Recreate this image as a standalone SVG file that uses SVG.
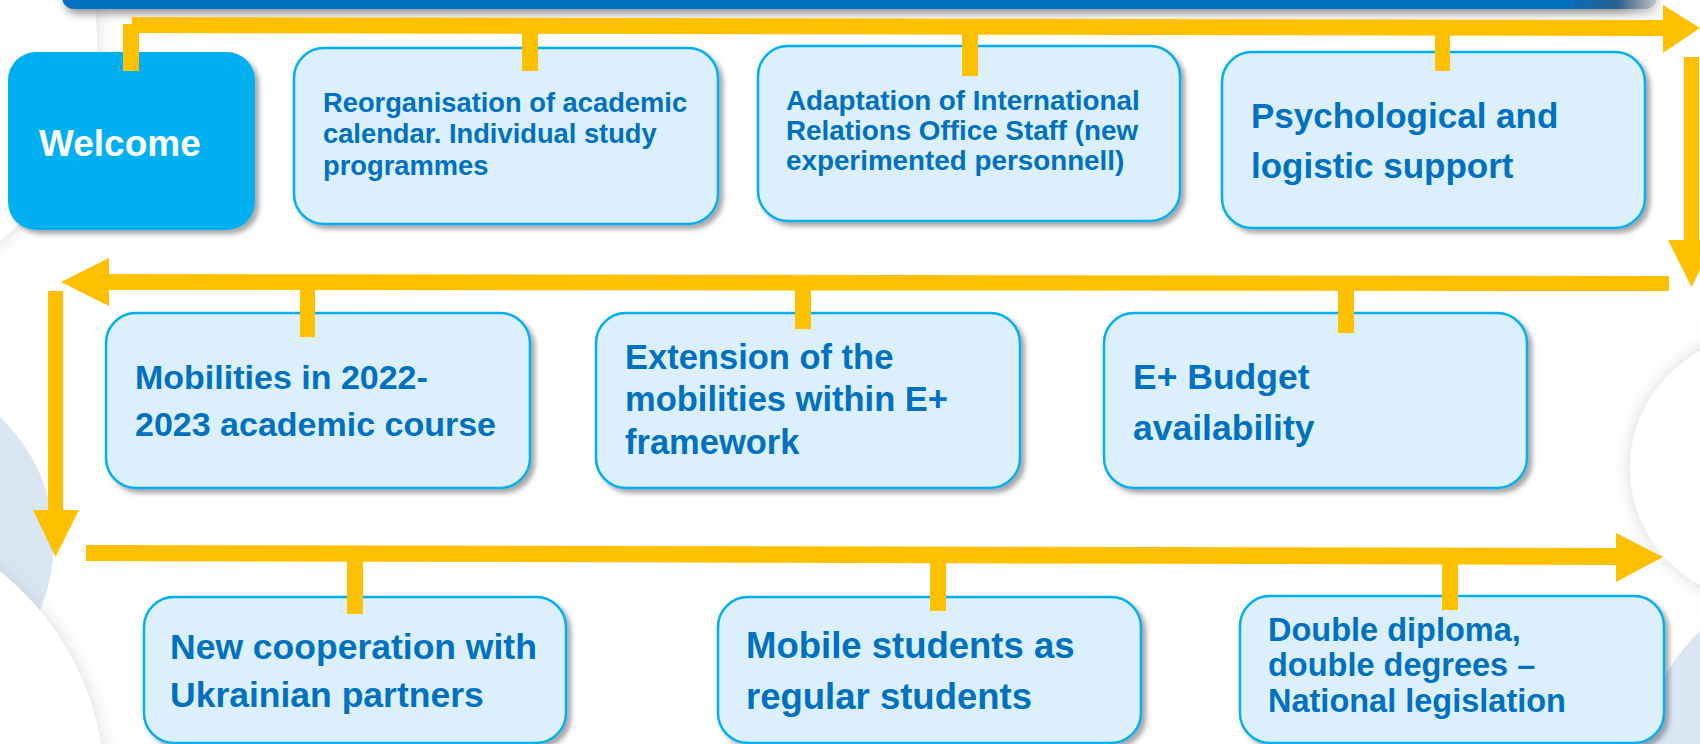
<svg xmlns="http://www.w3.org/2000/svg" width="1700" height="744" viewBox="0 0 1700 744">
<defs>
  <filter id="sh" x="-10%" y="-10%" width="130%" height="140%">
    <feDropShadow dx="4" dy="4" stdDeviation="2.5" flood-color="#5f5f5f" flood-opacity="0.55"/>
  </filter>
  <filter id="barsh" x="-5%" y="-50%" width="115%" height="300%">
    <feDropShadow dx="3" dy="5" stdDeviation="4" flood-color="#555" flood-opacity="0.6"/>
  </filter>
  <filter id="glow" x="-50%" y="-50%" width="200%" height="200%">
    <feDropShadow dx="0" dy="0" stdDeviation="9" flood-color="#b8b8b8" flood-opacity="0.55"/>
  </filter>
  <linearGradient id="bargrad" x1="0" y1="0" x2="1" y2="0">
    <stop offset="0" stop-color="#0070C0"/>
    <stop offset="0.94" stop-color="#0070C0"/>
    <stop offset="0.975" stop-color="#2A5F8F"/>
    <stop offset="1" stop-color="#7F8FA0" stop-opacity="0.3"/>
  </linearGradient>
  <style>
    .box{fill:#DBF0FC;stroke:#00B0F0;stroke-width:2.5;filter:url(#sh)}
    .welcome{fill:#00B0F0;filter:url(#sh)}
    .t{font-family:"Liberation Sans",Arial,sans-serif;font-weight:bold;fill:#0070C0}
    .w{font-family:"Liberation Sans",Arial,sans-serif;font-weight:bold;fill:#FFFFFF}
    .y{fill:#FFC000}
  </style>
</defs>
<rect width="1700" height="744" fill="#FFFFFF"/>

<g id="background">
  <circle cx="-160" cy="40" r="257" fill="#FFFFFF" filter="url(#glow)"/>
  <circle cx="-118" cy="542" r="172" fill="#DAE6F4"/>
  <circle cx="-175" cy="790" r="280" fill="#FFFFFF" filter="url(#glow)"/>
  <circle cx="1860" cy="790" r="226" fill="#DAE6F4"/>
  <circle cx="1763" cy="468" r="133" fill="#FFFFFF" filter="url(#glow)"/>
</g>

<g id="title-bar">
  <rect x="62" y="-20" width="1595" height="29" rx="12" fill="url(#bargrad)" filter="url(#barsh)"/>
</g>

<g id="node-welcome">
  <rect class="welcome" x="8" y="52" width="247" height="178" rx="28"/>
  <text class="w" x="39" y="156" font-size="37">Welcome</text>
</g>
<g id="node-reorganisation">
  <rect class="box" x="294" y="48" width="424" height="176" rx="30"/>
  <text class="t" x="323" font-size="27.3"><tspan x="323" y="112">Reorganisation of academic</tspan><tspan x="323" y="143">calendar. Individual study</tspan><tspan x="323" y="175">programmes</tspan></text>
</g>
<g id="node-adaptation">
  <rect class="box" x="758" y="46" width="422" height="175" rx="30"/>
  <text class="t" font-size="27.8"><tspan x="786" y="110">Adaptation of International</tspan><tspan x="786" y="140">Relations Office Staff (new</tspan><tspan x="786" y="170">experimented personnell)</tspan></text>
</g>
<g id="node-psychological">
  <rect class="box" x="1222" y="52" width="423" height="176" rx="30"/>
  <text class="t" font-size="35"><tspan x="1251" y="128">Psychological and</tspan><tspan x="1251" y="178">logistic support</tspan></text>
</g>
<g id="node-mobilities">
  <rect class="box" x="106" y="313" width="424" height="175" rx="30"/>
  <text class="t" font-size="34"><tspan x="135" y="389">Mobilities in 2022-</tspan><tspan x="135" y="436">2023 academic course</tspan></text>
</g>
<g id="node-extension">
  <rect class="box" x="596" y="313" width="424" height="175" rx="30"/>
  <text class="t" font-size="34.5"><tspan x="625" y="369">Extension of the</tspan><tspan x="625" y="411">mobilities within E+</tspan><tspan x="625" y="454">framework</tspan></text>
</g>
<g id="node-budget">
  <rect class="box" x="1104" y="313" width="423" height="175" rx="30"/>
  <text class="t" font-size="35.5"><tspan x="1133" y="389">E+ Budget</tspan><tspan x="1133" y="440">availability</tspan></text>
</g>
<g id="node-cooperation">
  <rect class="box" x="144" y="597" width="422" height="146" rx="30"/>
  <text class="t" font-size="35.5"><tspan x="170" y="659">New cooperation with</tspan><tspan x="170" y="707">Ukrainian partners</tspan></text>
</g>
<g id="node-mobile-students">
  <rect class="box" x="718" y="597" width="423" height="146" rx="30"/>
  <text class="t" font-size="36.5"><tspan x="746" y="658">Mobile students as</tspan><tspan x="746" y="709">regular students</tspan></text>
</g>
<g id="node-double-diploma">
  <rect class="box" x="1240" y="596" width="424" height="147" rx="30"/>
  <text class="t" font-size="32.5"><tspan x="1268" y="641">Double diploma,</tspan><tspan x="1268" y="676">double degrees –</tspan><tspan x="1268" y="712">National legislation</tspan></text>
</g>

<g id="connectors">
  <polygon class="y" points="132,17 1665,20 1665,36 132,33"/>
  <polygon class="y" points="1663,5 1700,28 1663,53"/>
  <rect class="y" x="123" y="24" width="16" height="47"/>
  <rect class="y" x="522" y="32" width="16" height="39"/>
  <rect class="y" x="962" y="34" width="16" height="42"/>
  <rect class="y" x="1435" y="35" width="15" height="36"/>
  <rect class="y" x="1684" y="57" width="15" height="184"/>
  <polygon class="y" points="1668,240 1715,240 1691.5,287"/>
  <polygon class="y" points="1669,276 1669,291 108,290 108,274"/>
  <polygon class="y" points="109,258 61,282 109,306"/>
  <rect class="y" x="300" y="290" width="15" height="47"/>
  <rect class="y" x="795" y="290" width="16" height="39"/>
  <rect class="y" x="1338" y="290" width="16" height="43"/>
  <rect class="y" x="48" y="291" width="15" height="220"/>
  <polygon class="y" points="33,510 79,510 55.5,557"/>
  <polygon class="y" points="86,545 1618,548 1618,565 86,561"/>
  <polygon class="y" points="1616,533 1663,557 1616,582"/>
  <rect class="y" x="347" y="561" width="16" height="53"/>
  <rect class="y" x="930" y="563" width="16" height="48"/>
  <rect class="y" x="1442" y="564" width="16" height="46"/>
</g>
</svg>
